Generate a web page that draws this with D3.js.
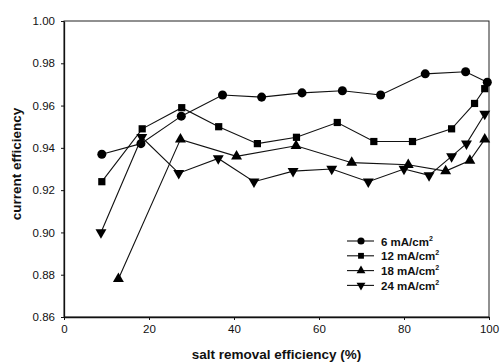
<!DOCTYPE html>
<html>
<head>
<meta charset="utf-8">
<script src="https://cdn.jsdelivr.net/npm/d3@7"></script>
<style>
  html, body { margin: 0; padding: 0; background: #fff; }
  svg { display: block; font-family: "Liberation Sans", Arial, sans-serif; }
</style>
</head>
<body>
<svg id="chart" width="500" height="363"></svg>
<script>
// Current efficiency vs. salt removal efficiency at four current densities
const x6  = [8.9, 18.1, 27.6, 37.3, 46.5, 56, 65.5, 74.5, 85, 94.5, 99.6];
const y6  = [0.937, 0.942, 0.955, 0.965, 0.964, 0.966, 0.967, 0.965, 0.975, 0.976, 0.971];
const x12 = [8.9, 18.4, 27.7, 36.4, 45.5, 54.7, 64.3, 72.9, 82, 91.2, 96.6, 99];
const y12 = [0.924, 0.949, 0.959, 0.950, 0.942, 0.945, 0.952, 0.943, 0.943, 0.949, 0.961, 0.968];
const x18 = [12.8, 27.4, 40.6, 54.6, 67.7, 81, 89.8, 95.5, 99];
const y18 = [0.878, 0.944, 0.936, 0.941, 0.933, 0.932, 0.929, 0.934, 0.944];
const x24 = [8.7, 18.3, 27, 36.3, 44.7, 53.9, 63, 71.6, 80, 85.9, 91.2, 94.7, 99];
const y24 = [0.900, 0.945, 0.928, 0.935, 0.924, 0.929, 0.930, 0.924, 0.930, 0.927, 0.936, 0.942, 0.956];

const seriesNames = ["6", "12", "18", "24"];
const xTicks = [0, 20, 40, 60, 80, 100];
const yTicks = [0.86, 0.88, 0.90, 0.92, 0.94, 0.96, 0.98, 1.00];

const series = [
  { name: seriesNames[0], xs: x6,  ys: y6,  symbol: d3.symbolCircle,   size: 64, lgSize: 40, rot: 0 },
  { name: seriesNames[1], xs: x12, ys: y12, symbol: d3.symbolSquare,   size: 52, lgSize: 34, rot: 0 },
  { name: seriesNames[2], xs: x18, ys: y18, symbol: d3.symbolTriangle, size: 52, lgSize: 34, rot: 0 },
  { name: seriesNames[3], xs: x24, ys: y24, symbol: d3.symbolTriangle, size: 52, lgSize: 34, rot: 180 }
];

const svg = d3.select("#chart");
const plotLeft = 64, plotRight = 489, plotTop = 21, plotBottom = 317;

const x = d3.scaleLinear().domain([0, 100]).range([plotLeft, plotRight]);
const y = d3.scaleLinear().domain([0.86, 1.00]).range([plotBottom, plotTop]);

// frame
svg.append("rect")
  .attr("x", plotLeft).attr("y", plotTop)
  .attr("width", plotRight - plotLeft).attr("height", plotBottom - plotTop)
  .attr("fill", "none").attr("stroke", "#222").attr("stroke-width", 1);

// axes
const xAxis = svg.append("g")
  .attr("transform", `translate(0,${plotBottom})`)
  .call(d3.axisBottom(x).tickValues(xTicks).tickFormat(d3.format("d")).tickSizeInner(3).tickSizeOuter(0).tickPadding(5));
const yAxis = svg.append("g")
  .attr("transform", `translate(${plotLeft},0)`)
  .call(d3.axisLeft(y).tickValues(yTicks).tickFormat(d3.format(".2f")).tickSizeInner(3).tickSizeOuter(0).tickPadding(6));

[xAxis, yAxis].forEach(g => {
  g.select(".domain").attr("stroke", "#111").attr("stroke-width", 1.3);
  g.selectAll(".tick line").attr("stroke", "#111");
  g.selectAll(".tick text")
    .attr("fill", "#111")
    .style("font-family", "'Liberation Sans', Arial, sans-serif")
    .style("font-size", "11.5px");
});

// axis titles
svg.append("text")
  .attr("x", (plotLeft + plotRight) / 2).attr("y", 359)
  .attr("text-anchor", "middle")
  .style("font-size", "13.5px").style("font-weight", "bold").attr("fill", "#111")
  .text("salt removal efficiency (%)");
svg.append("text")
  .attr("transform", `translate(21,164) rotate(-90)`)
  .attr("text-anchor", "middle")
  .style("font-size", "13.5px").style("font-weight", "bold").attr("fill", "#111")
  .text("current efficiency");

// lines and markers
const line = d3.line().x(d => x(d[0])).y(d => y(d[1]));
series.forEach(s => {
  const pts = s.xs.map((v, i) => [v, s.ys[i]]);
  svg.append("path")
    .attr("d", line(pts))
    .attr("fill", "none").attr("stroke", "#111").attr("stroke-width", 1.1);
  svg.selectAll(null).data(pts).enter().append("path")
    .attr("d", d3.symbol().type(s.symbol).size(s.size))
    .attr("transform", d => `translate(${x(d[0])},${y(d[1])}) rotate(${s.rot})`)
    .attr("fill", "#000");
});

// legend
const legend = svg.append("g");
const lgX0 = 347, lgX1 = 374, lgMid = 361, lgTextX = 381, lgY0 = 241, lgDy = 14.8;
series.forEach((s, i) => {
  const yy = lgY0 + i * lgDy;
  legend.append("line")
    .attr("x1", lgX0).attr("x2", lgX1).attr("y1", yy).attr("y2", yy)
    .attr("stroke", "#111").attr("stroke-width", 1.1);
  legend.append("path")
    .attr("d", d3.symbol().type(s.symbol).size(s.lgSize))
    .attr("transform", `translate(${lgMid},${yy}) rotate(${s.rot})`)
    .attr("fill", "#000");
  const t = legend.append("text")
    .attr("x", lgTextX).attr("y", yy + 4.5)
    .style("font-size", "11.5px").style("font-weight", "bold").attr("fill", "#111");
  t.append("tspan").text(`${s.name} mA/cm`);
  t.append("tspan").attr("dy", -5).style("font-size", "7px").text("2");
});
</script>
</body>
</html>
